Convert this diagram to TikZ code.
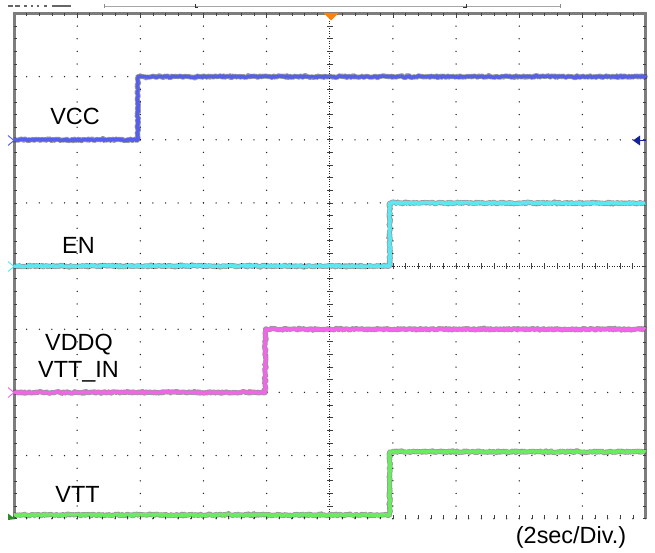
\documentclass[tikz,border=0pt]{standalone}
\usepackage{fontspec}
\setmainfont{Liberation Sans}
\usetikzlibrary{decorations.pathmorphing}

\definecolor{vccblue}{RGB}{85,95,235}
\definecolor{encyan}{RGB}{90,232,242}
\definecolor{vddqpink}{RGB}{242,100,232}
\definecolor{vttgreen}{RGB}{105,236,95}
\definecolor{framegray}{RGB}{125,125,125}
\definecolor{trigorange}{RGB}{255,128,10}
\definecolor{levelblue}{RGB}{20,35,150}
\definecolor{markgreen}{RGB}{40,140,40}

\tikzset{
  griddot/.style={fill=black!85},
  frameline/.style={framegray, line width=3bp},
  frametick/.style={black!75, line width=0.6bp},
  axisline/.style={black!85, line width=0.9bp, dash pattern=on 0.9bp off 1.6bp},
  trace/.style={line width=3.4bp, line join=round, line cap=butt, decorate,
    decoration={random steps, segment length=1bp, amplitude=0.8bp},
    preaction={draw, line width=5bp, opacity=0.4, line join=round, decorate}},
  siglabel/.style={font=\fontsize{23.5}{26}\selectfont, anchor=base},
  chmark/.style={line width=0.9bp},
}

\begin{document}
\begin{tikzpicture}[x=1bp, y=-1bp]
  \pgfmathsetseed{11}
  \useasboundingbox (0,0) rectangle (655,553);

  % cut-off header strip
  \draw[black!35, line width=0.8bp] (104,6.5) -- (560,6.5);
  \draw[black!45, line width=0.8bp] (104,4) -- (104,8.5) (560,4) -- (560,8.5);
  \draw[black!80, line width=0.9bp] (195,4) -- (195,7.5) -- (198,7.5);
  \draw[black!80, line width=0.9bp] (463,7.5) -- (466,7.5) -- (466,4);
  \foreach \hx/\hw in {8/5, 15/5, 24/3, 31/2, 37/2, 44/3, 52/19}
    \fill[black!60] (\hx,5) rectangle ++(\hw,2);

  \begin{scope}[shift={(14,13.5)}, x=63.15bp, y=-63.15bp]
    % grid
    \foreach \gx in {1,2,3,4,6,7,8,9}
      \foreach \gy in {0,...,40}
        \fill[griddot] (\gx,\gy/5) circle[radius=0.75bp];
    \foreach \gy in {1,2,3,5,6,7,8}
      \foreach \gx in {0,...,50}
        \fill[griddot] (\gx/5,\gy) circle[radius=0.75bp];

    % centre axes
    \draw[axisline] (5,0) -- (5,8);
    \draw[axisline] (0,4) -- (10,4);
    \foreach \gy in {1,...,39}
      \draw[frametick, line width=0.8bp] (5,\gy/5) ++(-3bp,0) -- ++(6bp,0);
    \foreach \gx in {1,...,49}
      \draw[frametick, line width=0.8bp] (\gx/5,4) ++(0,-3bp) -- ++(0,6bp);

    % frame
    \draw[frameline] (0,8) -- (0,0) -- (10,0) -- (10,8);
    \foreach \gy in {1,...,40} {
      \draw[frametick] (0,\gy/5) -- ++(3bp,0);
      \draw[frametick] (10,\gy/5) -- ++(-3bp,0);
    }
    \foreach \gx in {1,...,49} {
      \draw[frametick] (\gx/5,0) -- ++(0,-3bp);
      \draw[frametick] (\gx/5,8) -- ++(0,3.5bp);
    }
    \foreach \gx in {1,...,9}
      \draw[frametick] (\gx,0) -- ++(0,-5bp);

    % traces
    \draw[trace, vccblue] (0,2) -- (1.96,2) -- (1.96,1) -- (10,1);
    \draw[trace, encyan] (0,4) -- (5.95,4) -- (5.95,3) -- (10,3);
    \draw[trace, vddqpink] (0,6) -- (3.98,6) -- (3.98,5) -- (10,5);
    \draw[trace, vttgreen] (0,7.94) -- (5.95,7.94) -- (5.95,6.94) -- (10,6.94);
  \end{scope}

  % channel markers
  \draw[chmark, vccblue] (8,135.5) -- (14,140.5) -- (8,145.5);
  \draw[chmark, encyan] (8,261.5) -- (14,266.5) -- (8,271.5);
  \draw[chmark, vddqpink] (8,387.5) -- (14,392.5) -- (8,397.5);
  \fill[markgreen] (8,513.5) -- (15,519) -- (8,520) -- cycle;

  % trigger position and level
  \fill[trigorange] (323.5,13) -- (338.5,13) -- (331,20.5) -- cycle;
  \fill[levelblue] (633,140.5) -- (640,135.5) -- (640,145.5) -- cycle;
  \draw[levelblue, line width=1.2bp] (640,140.5) -- (646,140.5);

  % labels
  \node[siglabel] (vcc) at (75,125) {VCC};
  \node[siglabel] (en) at (78.5,254) {EN};
  \node[siglabel] (vddq) at (79,350) {VDDQ};
  \node[siglabel] (vttin) at (78.5,377.5) {VTT\_IN};
  \node[siglabel] (vtt) at (77.5,502) {VTT};
  \node[siglabel] (scale) at (571,543) {(2sec/Div.)};
\end{tikzpicture}
\end{document}
